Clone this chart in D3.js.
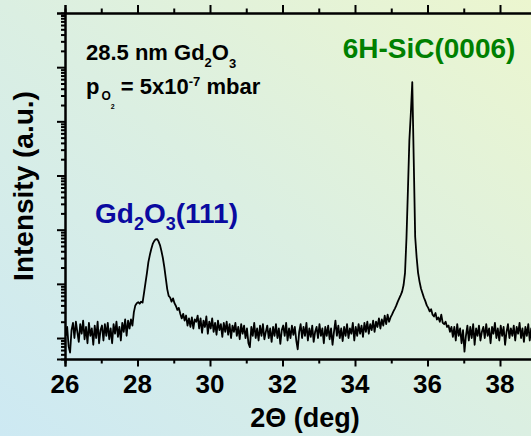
<!DOCTYPE html>
<html>
<head>
<meta charset="utf-8">
<script src="https://cdn.jsdelivr.net/npm/d3@7"></script>
<style>
  html, body { margin: 0; padding: 0; overflow: hidden; }
  svg { display: block; font-family: "Liberation Sans", Arial, sans-serif; font-weight: bold; }
</style>
</head>
<body>
<svg id="chart" width="531" height="436"></svg>
<script>
// XRD 2θ scan of a 28.5 nm Gd2O3 film on 6H-SiC (counts, log scale)
const scanStart = 26.02;   // deg
const scanStep = 0.04;     // deg
const counts = [
  // 26.02 – 27.78 background
  11, 16, 7, 5.4, 14, 19, 10, 20, 13, 8.5, 18, 12, 21, 9.5, 16, 8, 19, 11, 15, 7.5,
  17, 10, 20, 8, 14, 17, 9, 18, 11, 19, 9.5, 15, 8, 18, 12, 20, 10.5, 16, 9, 19,
  13, 22, 11, 21, 15,
  // Gd2O3(111)
  22, 17, 30, 40, 44, 46, 43, 47, 45, 68, 104, 158, 252, 340, 440, 545, 615, 665, 672, 610,
  520, 405, 300, 204, 128, 80, 60, 56, 47, 54, 44, 39, 33, 36, 28, 23, 28, 21, 26, 17,
  23, 16, 24, 15, 22,
  // 29.62 – 30.70
  20, 26, 15, 23, 12.5, 21, 16, 25, 12, 20, 15, 23, 13, 19, 11.5, 21, 14, 18, 10.5, 19,
  13, 20, 11.5, 18, 10, 17, 13, 19,
  // 30.74 – 34.38
  11, 16, 9.5, 18, 12, 17, 10, 15, 8, 6.8, 16, 11, 19, 10, 15, 9, 17, 11, 18, 9.5,
  13, 17, 10, 15, 8.5, 16, 11, 18, 10, 15, 7.8, 14, 17, 11, 19, 9, 15, 10, 17, 11.5,
  16, 9, 6.2, 13, 18, 10, 16, 11, 19, 9, 15, 10.5, 17, 8.5, 13, 16, 10, 18, 11, 15,
  8, 16, 11, 17, 9.5, 15, 7.5, 13, 21, 11, 17, 10, 15, 8.8, 16, 11, 18, 10, 15, 12,
  19, 9, 16, 11, 18, 12, 17, 10.5, 19, 13, 20, 12,
  // 34.42 – 34.98
  18, 14, 21, 13, 20, 16, 23, 15, 22, 17, 26, 18, 27, 20, 24,
  // 6H-SiC(0006)
  27, 31, 35, 40, 47, 54, 62, 72, 95, 160, 700, 5400, 45000, 140000, 530000, 20000, 740, 310, 160, 110,
  82, 68, 56, 48, 40, 36, 31, 34, 27, 25, 29, 22, 24, 20, 27, 19, 18, 20, 16, 17,
  13, 16,
  // 36.70 – 39.02
  10.5, 16, 9, 18, 11, 15, 8, 14, 5.6, 11, 17, 9, 16, 10, 18, 7.5, 15, 11, 17, 9,
  13, 16, 10, 18, 11, 15, 8, 16, 12, 19, 10, 15, 9, 17, 11, 16, 7.5, 13, 18, 10,
  15, 11, 17, 9, 16, 12, 19, 10, 15, 8.5, 16, 11, 18, 9, 15, 11, 17, 10, 15
];

const xDomain = [26, 40];
const xLabelTicks = [26, 28, 30, 32, 34, 36, 38];
const xMajorTicks = [26, 28, 30, 32, 34, 36, 38, 40];
const xMinorTicks = [27, 29, 31, 33, 35, 37, 39];
const yDomain = [4.1, 1e7];
const yMajorTicks = [10, 1e2, 1e3, 1e4, 1e5, 1e6, 1e7];

const margin = { left: 65, top: 13, bottom: 359 };
const plotRight = 572.5;

const svg = d3.select("#chart");

// soft diagonal background
const defs = svg.append("defs");
const grad = defs.append("linearGradient").attr("id", "bg")
  .attr("x1", 0).attr("y1", 1).attr("x2", 1).attr("y2", 0);
grad.append("stop").attr("offset", 0).attr("stop-color", "#cde9f3");
grad.append("stop").attr("offset", 0.5).attr("stop-color", "#dbefe2");
grad.append("stop").attr("offset", 1).attr("stop-color", "#ecf6cf");
svg.append("rect").attr("width", 531).attr("height", 436).attr("fill", "url(#bg)");

defs.append("clipPath").attr("id", "plot-clip").append("rect")
  .attr("x", margin.left).attr("y", margin.top)
  .attr("width", plotRight - margin.left).attr("height", margin.bottom - margin.top);

const x = d3.scaleLinear().domain(xDomain).range([margin.left, plotRight]);
const y = d3.scaleLog().domain(yDomain).range([margin.bottom, margin.top]);

// minor log ticks: 2..9 × each decade that falls inside the domain
const yMinorTicks = [];
[1, 10, 1e2, 1e3, 1e4, 1e5, 1e6].forEach(d => {
  for (let k = 2; k <= 9; k++) {
    const v = k * d;
    if (v >= yDomain[0] && v <= yDomain[1]) yMinorTicks.push(v);
  }
});

const axisStyle = g => {
  g.select(".domain").attr("stroke", "#000").attr("stroke-width", 2);
  g.selectAll(".tick line").attr("stroke", "#000").attr("stroke-width", 2);
};

// scan trace
const data = counts.map((c, i) => ({ t: scanStart + i * scanStep, c }));
svg.append("path")
  .datum(data)
  .attr("clip-path", "url(#plot-clip)")
  .attr("fill", "none")
  .attr("stroke", "#000")
  .attr("stroke-width", 1.8)
  .attr("stroke-linejoin", "round")
  .attr("d", d3.line().x(d => x(d.t)).y(d => y(d.c)));

// bottom axis
svg.append("g").attr("transform", `translate(0,${margin.bottom})`)
  .call(d3.axisBottom(x).tickValues(xMinorTicks).tickSize(4.5).tickFormat(""))
  .call(axisStyle);
svg.append("g").attr("transform", `translate(0,${margin.bottom})`)
  .call(d3.axisBottom(x).tickValues(xMajorTicks).tickSize(7.5).tickFormat(""))
  .call(axisStyle);
svg.append("g").attr("class", "x-labels")
  .selectAll("text")
  .data(xLabelTicks)
  .join("text")
  .attr("x", d => x(d))
  .attr("y", margin.bottom + 34)
  .attr("text-anchor", "middle")
  .style("font-size", "26px")
  .text(d3.format("d"));

// top axis (mirror)
svg.append("g").attr("transform", `translate(0,${margin.top})`)
  .call(d3.axisTop(x).tickValues(xMinorTicks).tickSize(4.5).tickFormat(""))
  .call(axisStyle);
svg.append("g").attr("transform", `translate(0,${margin.top})`)
  .call(d3.axisTop(x).tickValues(xMajorTicks).tickSize(8).tickFormat(""))
  .call(axisStyle);

// left axis
svg.append("g").attr("transform", `translate(${margin.left},0)`)
  .call(d3.axisLeft(y).tickValues(yMinorTicks).tickSize(4).tickFormat(""))
  .call(axisStyle);
svg.append("g").attr("transform", `translate(${margin.left},0)`)
  .call(d3.axisLeft(y).tickValues(yMajorTicks).tickSize(8).tickFormat(""))
  .call(axisStyle);

// right axis (mirror)
svg.append("g").attr("transform", `translate(${plotRight},0)`)
  .call(d3.axisRight(y).tickValues(yMajorTicks).tickSize(8).tickFormat(""))
  .call(axisStyle);

// axis titles
svg.append("text")
  .attr("x", 305).attr("y", 427)
  .attr("text-anchor", "middle")
  .style("font-size", "27px")
  .text("2Θ (deg)");

svg.append("text")
  .attr("transform", "translate(33,186) rotate(-90)")
  .attr("text-anchor", "middle")
  .style("font-size", "28px")
  .text("Intensity (a.u.)");

// sample description
const desc1 = svg.append("text").attr("x", 86).attr("y", 60).style("font-size", "22px");
desc1.append("tspan").text("28.5 nm Gd");
desc1.append("tspan").attr("dy", 7).style("font-size", "13px").text("2");
desc1.append("tspan").attr("dy", -7).text("O");
desc1.append("tspan").attr("dy", 8).style("font-size", "13px").text("3");

const desc2 = svg.append("text").attr("x", 86).attr("y", 94).style("font-size", "22px");
desc2.append("tspan").text("p");
desc2.append("tspan").attr("dx", 2).attr("dy", 6).style("font-size", "12px").text("O");
desc2.append("tspan").attr("dy", 9).style("font-size", "7px").text("2");
desc2.append("tspan").attr("dy", -15).text(" = 5x10");
desc2.append("tspan").attr("dy", -8).style("font-size", "13px").text("-7");
desc2.append("tspan").attr("dy", 8).text(" mbar");

// reflection labels
svg.append("text")
  .attr("x", 429).attr("y", 58)
  .attr("text-anchor", "middle")
  .attr("fill", "#008000")
  .style("font-size", "28px")
  .text("6H-SiC(0006)");

const gdLabel = svg.append("text").attr("x", 95).attr("y", 223)
  .attr("fill", "#0a0aa0").style("font-size", "28px");
gdLabel.append("tspan").text("Gd");
gdLabel.append("tspan").attr("dy", 7).style("font-size", "18px").text("2");
gdLabel.append("tspan").attr("dy", -7).text("O");
gdLabel.append("tspan").attr("dy", 7).style("font-size", "18px").text("3");
gdLabel.append("tspan").attr("dy", -7).text("(111)");
</script>
</body>
</html>
